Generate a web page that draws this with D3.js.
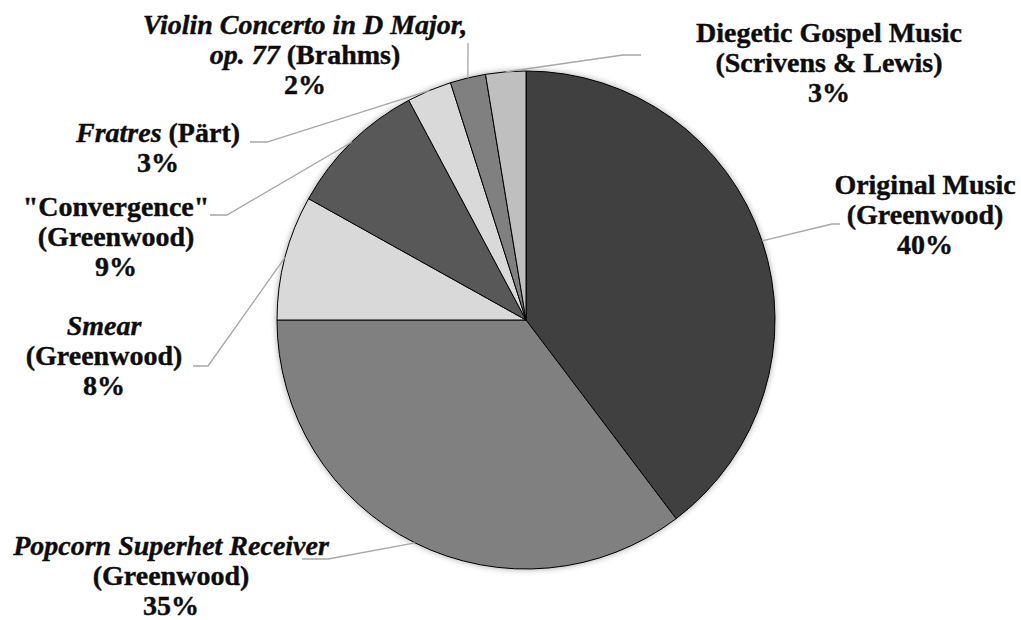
<!DOCTYPE html>
<html>
<head>
<meta charset="utf-8">
<script src="https://cdn.jsdelivr.net/npm/d3@7"></script>
<style>
  body { margin: 0; background: #fff; }
  text { font-family: "Liberation Serif", "Times New Roman", serif; font-weight: bold; font-size: 28px;
         fill: #0d0d0d; stroke: #0d0d0d; stroke-width: 0.4px; }
</style>
</head>
<body>
<div id="chart-area"></div>
<script>
// slices clockwise from 12 o'clock
var categories = ["Original Music", "Popcorn Superhet Receiver", "Smear", "Convergence",
    "Fratres", "Violin Concerto", "Diegetic Gospel Music"];
var values = [39.7, 35.3, 8.1, 9.1, 2.9, 2.3, 2.6];
var colors = ["#404040", "#808080", "#d9d9d9", "#595959", "#d9d9d9", "#808080", "#bfbfbf"];

// label text, each line a list of [text, italic]
var labelLines = [
    [[["Original Music", false]], [["(Greenwood)", false]]],
    [[["Popcorn Superhet Receiver", true]], [["(Greenwood)", false]]],
    [[["Smear", true]], [["(Greenwood)", false]]],
    [[["\"Convergence\"", false]], [["(Greenwood)", false]]],
    [[["Fratres", true], [" (Pärt)", false]]],
    [[["Violin Concerto in D Major,", true]], [["op. 77", true], [" (Brahms)", false]]],
    [[["Diegetic Gospel Music", false]], [["(Scrivens & Lewis)", false]]]
];

var width = 1021;
var height = 620;
var cx = 526, cy = 320, radius = 249;
var lineH = 30;

// label anchor (centre x, first baseline) and leader elbow / end
var labelPos = [[925, 194], [171, 555], [104, 335], [116, 216], [158, 142], [305, 34], [829, 42]];
var elbows = [[832, 224], [328, 559], [208, 366], [227, 215], [267, 142], [468, 43], [623, 55]];
var ends = [[840, 224], [302, 559], [193, 366], [210, 215], [250, 142], [468, 43], [641, 55]];

var svg = d3.select("#chart-area")
    .append("svg")
    .attr("width", width)
    .attr("height", height);

var defs = svg.append("defs");
var f = defs.append("filter").attr("id", "shadow")
    .attr("x", "-10%").attr("y", "-10%").attr("width", "120%").attr("height", "120%");
f.append("feGaussianBlur").attr("in", "SourceAlpha").attr("stdDeviation", 3).attr("result", "b");
f.append("feComponentTransfer").attr("in", "b").attr("result", "s")
    .append("feFuncA").attr("type", "linear").attr("slope", 0.35);
var fm = f.append("feMerge");
fm.append("feMergeNode").attr("in", "s");
fm.append("feMergeNode").attr("in", "SourceGraphic");

var pie = d3.pie().sort(null).value(function(d) { return d; });
var arcs = pie(values);

var arc = d3.arc().innerRadius(0).outerRadius(radius);
var edge = d3.arc().innerRadius(radius).outerRadius(radius);

var g = svg.append("g")
    .attr("transform", "translate(" + cx + "," + cy + ")");

g.append("g")
    .attr("filter", "url(#shadow)")
    .selectAll("path")
    .data(arcs)
    .enter()
    .append("path")
    .attr("d", arc)
    .attr("fill", function(d, i) { return colors[i]; })
    .attr("stroke", "#000")
    .attr("stroke-width", 1);

// leader lines
svg.selectAll("polyline.leader")
    .data(arcs)
    .enter()
    .append("polyline")
    .attr("class", "leader")
    .attr("fill", "none")
    .attr("stroke", "#a6a6a6")
    .attr("stroke-width", 1.3)
    .attr("points", function(d, i) {
        var c = edge.centroid(d);
        return [[c[0] + cx, c[1] + cy], elbows[i], ends[i]].join(" ");
    });

// labels
arcs.forEach(function(d, i) {
    var t = svg.append("text")
        .attr("text-anchor", "middle");
    var lines = labelLines[i].concat([[[Math.round(d.value) + "%", false]]]);
    lines.forEach(function(line, j) {
        line.forEach(function(seg, k) {
            var ts = t.append("tspan")
                .style("font-style", seg[1] ? "italic" : "normal")
                .text(seg[0]);
            if (k === 0) {
                ts.attr("x", labelPos[i][0]).attr("y", labelPos[i][1] + j * lineH);
            }
        });
    });
});
</script>
</body>
</html>
